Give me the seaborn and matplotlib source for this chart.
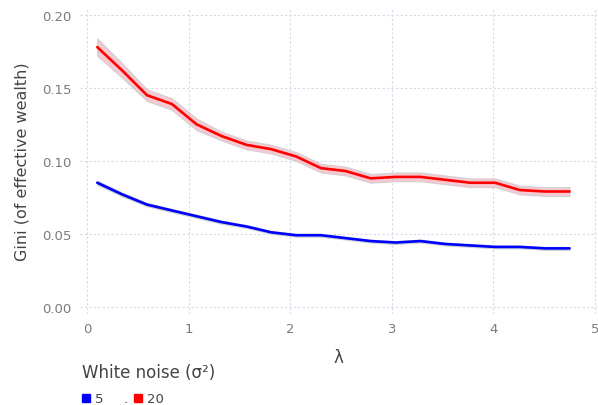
import numpy as np
import pandas as pd
import matplotlib
matplotlib.use("Agg")
import matplotlib.pyplot as plt
from matplotlib.lines import Line2D
import seaborn as sns

# lambda values
lam = [0.10, 0.345, 0.59, 0.834, 1.079, 1.324, 1.568, 1.813, 2.058, 2.303,
       2.547, 2.792, 3.037, 3.282, 3.526, 3.771, 4.016, 4.261, 4.505, 4.75]

# mean Gini per noise level
gini_5 = [0.085, 0.077, 0.070, 0.066, 0.062, 0.058, 0.055, 0.051, 0.049, 0.049,
          0.047, 0.045, 0.044, 0.045, 0.043, 0.042, 0.041, 0.041, 0.040, 0.040]
gini_20 = [0.178, 0.162, 0.145, 0.139, 0.125, 0.117, 0.111, 0.108, 0.103, 0.095,
           0.093, 0.088, 0.089, 0.089, 0.087, 0.085, 0.085, 0.080, 0.079, 0.079]

# half-width of the confidence band
ci_5 = [0.0015, 0.0013, 0.0012, 0.0012, 0.0011, 0.0011, 0.0010, 0.0010, 0.0010, 0.0010,
        0.0010, 0.0010, 0.0010, 0.0010, 0.0010, 0.0010, 0.0010, 0.0010, 0.0010, 0.0010]
ci_20 = [0.006, 0.005, 0.004, 0.004, 0.004, 0.003, 0.003, 0.003, 0.003, 0.003,
         0.003, 0.003, 0.003, 0.003, 0.003, 0.003, 0.003, 0.003, 0.003, 0.003]

noise_levels = ["5", "20"]
colors = {"5": "#0000ff", "20": "#ff0000"}
band_colors = {"5": "#b8d0c8", "20": "#f2bcc6"}

df = pd.concat([
    pd.DataFrame({"lam": lam, "gini": gini_5, "ci": ci_5, "noise": "5"}),
    pd.DataFrame({"lam": lam, "gini": gini_20, "ci": ci_20, "noise": "20"}),
], ignore_index=True)

sns.set_style("white")
plt.rcParams["font.family"] = ["DejaVu Sans"]

fig = plt.figure(figsize=(5.98, 4.06), dpi=100)
ax = fig.add_axes([80 / 598, 1 - 315 / 406, 517 / 598, 307 / 406])

for lvl in noise_levels:
    sub = df[df["noise"] == lvl]
    ax.fill_between(sub["lam"], sub["gini"] - sub["ci"], sub["gini"] + sub["ci"],
                    facecolor=band_colors[lvl], edgecolor="#cccccc", linewidth=0.8,
                    alpha=0.8, zorder=2)

sns.lineplot(data=df, x="lam", y="gini", hue="noise", palette=colors,
             hue_order=noise_levels, linewidth=1.9, ax=ax, legend=False,
             errorbar=None, zorder=3)

ax.set_xlim(-0.07, 5.02)
ax.set_ylim(-0.005, 0.2055)
ax.set_xticks([0, 1, 2, 3, 4, 5])
ax.set_yticks([0.0, 0.05, 0.10, 0.15, 0.20])
ax.set_yticklabels(["0.00", "0.05", "0.10", "0.15", "0.20"])
ax.grid(True, color="#d8d8ea", linestyle=(0, (2, 2)), linewidth=0.8, zorder=0)
ax.set_axisbelow(True)
for s in ax.spines.values():
    s.set_visible(False)
ax.tick_params(axis="both", length=0, labelsize=9.5, labelcolor="#7a7a80", pad=6)

ax.set_xlabel("λ", fontsize=12, color="#444444", labelpad=9)
ax.set_ylabel("Gini (of effective wealth)", fontsize=11.5, color="#444444", labelpad=9)

handles = [
    Line2D([], [], marker="s", color="none", markerfacecolor="#0000ff",
           markeredgecolor="#0000ff", markersize=5.5),
    Line2D([], [], marker="", color="none"),
    Line2D([], [], marker="s", color="none", markerfacecolor="#ff0000",
           markeredgecolor="#ff0000", markersize=5.5),
]
leg = fig.legend(handles, ["5", ".", "20"], title="White noise (σ²)",
                 loc="lower left", bbox_to_anchor=(70 / 598, -0.03), ncol=3,
                 frameon=False, fontsize=9.5, title_fontsize=12,
                 handlelength=0.6, handletextpad=0.4, columnspacing=0.5,
                 alignment="left")
leg._legend_box.sep = 8
leg.get_title().set_color("#444444")
for t in leg.get_texts():
    t.set_color("#444444")

fig.savefig("out.png", dpi=100)
